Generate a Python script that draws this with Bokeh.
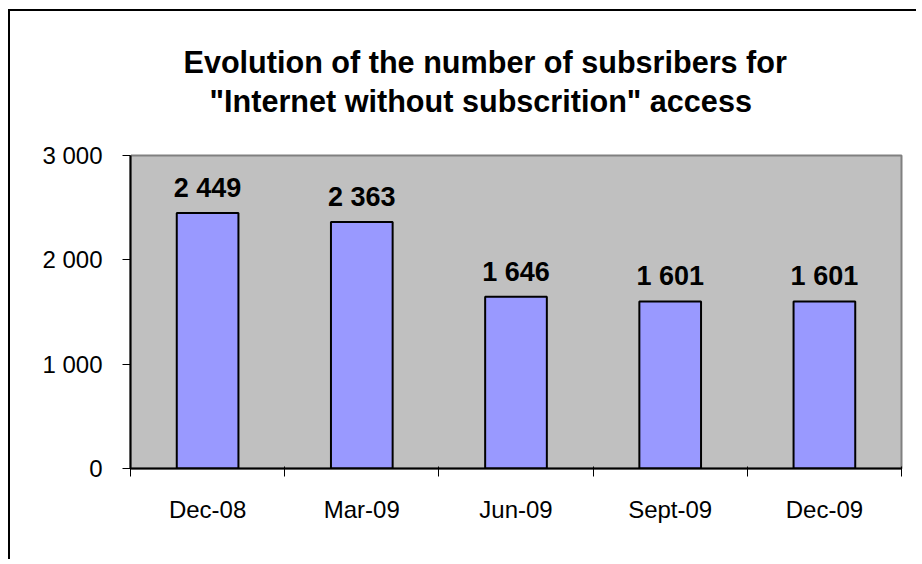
from bokeh.plotting import figure
from bokeh.models import Range1d, FixedTicker, Title, ColumnDataSource, LinearAxis
from bokeh.core.properties import value
from bokeh.embed import file_html
from bokeh.resources import INLINE

categories = ["Dec-08", "Mar-09", "Jun-09", "Sept-09", "Dec-09"]
subscribers = [2449, 2363, 1646, 1601, 1601]
y_ticks = [0, 1000, 2000, 3000]
title_lines = ["Evolution of the number of subsribers for",
               "\"Internet without subscrition\" access"]

FONT = "Liberation Sans"


def fmt(v):
    return f"{v:,}".replace(",", " ")


n = len(categories)
x_pos = list(range(n))
src = ColumnDataSource(dict(x=x_pos, y=subscribers,
                            label=[fmt(v) for v in subscribers]))

p = figure(width=908, height=550,
           x_range=Range1d(-0.5, n - 0.5), y_range=Range1d(0, y_ticks[-1]),
           output_backend="svg", toolbar_location=None,
           min_border_left=120, min_border_top=144,
           min_border_right=17, min_border_bottom=93)

p.title.visible = False
p.background_fill_color = "#C0C0C0"
p.border_fill_color = "white"
p.outline_line_color = "#808080"
p.outline_line_width = 2
p.xgrid.visible = False
p.ygrid.visible = False
p.styles = {"border-left": "2px solid black", "border-top": "2px solid black",
            "margin-left": "8px", "margin-top": "9px"}

p.vbar(x="x", top="y", width=0.4, source=src,
       fill_color="#9999FF", line_color="black", line_width=2)

p.text(x="x", y="y", text="label", source=src,
       text_font=value(FONT), text_font_size="27px", text_font_style="bold",
       text_align="center", text_baseline="alphabetic", y_offset=-25,
       text_color="black")

# y axis
ya = p.yaxis[0]
ya.ticker = FixedTicker(ticks=y_ticks)
ya.major_label_overrides = {t: fmt(t) for t in y_ticks}
ya.major_tick_out = 8
ya.major_tick_in = 0
ya.minor_tick_line_color = None
ya.axis_line_color = "black"
ya.axis_line_width = 2
ya.major_tick_line_color = "black"
ya.major_tick_line_width = 1
ya.major_label_text_font = FONT
ya.major_label_text_font_size = "24px"
ya.major_label_text_color = "black"
ya.major_label_standoff = 20

# x axis
xa = p.xaxis[0]
xa.ticker = FixedTicker(ticks=x_pos, minor_ticks=[i - 0.5 for i in range(n + 1)])
xa.major_label_overrides = {i: c for i, c in zip(x_pos, categories)}
xa.major_tick_line_color = None
xa.major_tick_out = 0
xa.major_tick_in = 0
xa.minor_tick_out = 8
xa.minor_tick_in = 2
xa.minor_tick_line_color = "black"
xa.minor_tick_line_width = 1
xa.axis_line_color = "black"
xa.axis_line_width = 2
xa.major_label_text_font = FONT
xa.major_label_text_font_size = "24px"
xa.major_label_text_color = "black"
xa.major_label_standoff = 19

# invisible spacer between the plot area and the title
spacer = LinearAxis(ticker=FixedTicker(ticks=[-0.5]), axis_line_color=None,
                    major_tick_line_color="white", minor_tick_line_color=None,
                    major_tick_out=38, major_tick_in=0, minor_tick_out=0,
                    minor_tick_in=0, major_label_standoff=0,
                    major_label_text_font_size="0px",
                    major_label_text_color=None)
p.add_layout(spacer, "above")

# title: second line added first so it sits nearest the plot area
p.add_layout(Title(text=title_lines[1], align="left", offset=79, standoff=0,
                   text_font=FONT, text_font_size="30.6px", text_font_style="bold",
                   text_color="black"), "above")
p.add_layout(Title(text=title_lines[0], align="left", offset=53, standoff=6,
                   text_font=FONT, text_font_size="30.6px", text_font_style="bold",
                   text_color="black"), "above")

open("out.html", "w").write(file_html(p, INLINE))
